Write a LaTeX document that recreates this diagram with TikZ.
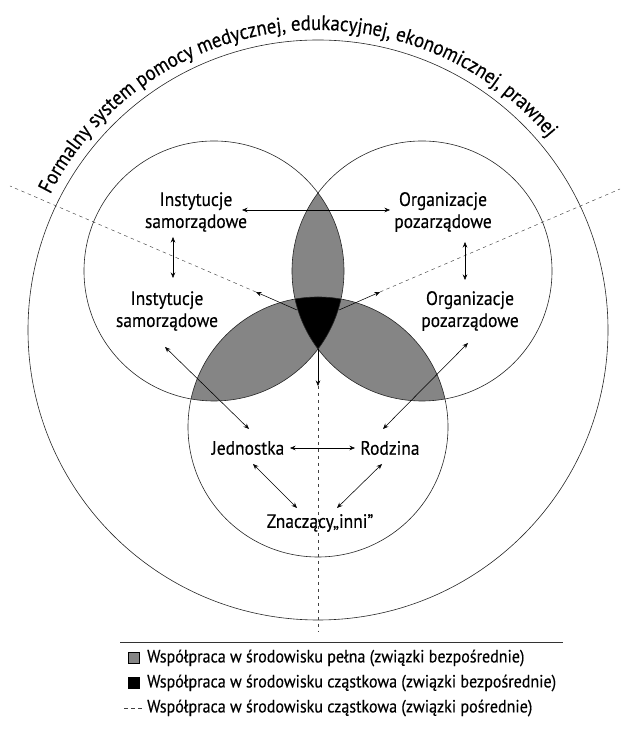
\documentclass[tikz,border=0pt]{standalone}
\usepackage{fontspec}
\setmainfont{PT Sans}[FakeStretch=0.9,FakeBold=0.3]
\usetikzlibrary{arrows.meta,decorations.text,calc}

\begin{document}
\begin{tikzpicture}[x=1pt,y=1pt,
  ring/.style={draw=black!85,line width=0.6pt},
  lens/.style={fill=black!48},
  core/.style={fill=black},
  lbl/.style={font=\fontsize{19.4}{22}\selectfont,align=center,inner sep=0pt},
  link/.style={line width=0.55pt,{Stealth[length=5.5pt,width=4.5pt]}-{Stealth[length=5.5pt,width=4.5pt]}},
  ray/.style={line width=0.55pt,-{Stealth[length=5.5pt,width=4.5pt]}},
  guide/.style={dash pattern=on 3.5pt off 3.5pt,line width=0.45pt,draw=black!75},
  legtext/.style={font=\fontsize{17.8}{20}\selectfont,anchor=west,inner sep=0pt}]
\useasboundingbox (0,0) rectangle (626,730);

% centres of the outer circle and the three spheres
\coordinate (O) at (318,400);
\coordinate (A) at (214,459);
\coordinate (B) at (422,459);
\coordinate (C) at (318,303);

% pairwise overlaps (grey) and the common part (black)
\begin{scope}
  \clip (A) circle[radius=130pt];
  \fill[lens] (B) circle[radius=130pt];
  \fill[lens] (C) circle[radius=130pt];
\end{scope}
\begin{scope}
  \clip (B) circle[radius=130pt];
  \fill[lens] (C) circle[radius=130pt];
\end{scope}
\begin{scope}
  \clip (A) circle[radius=130pt];
  \clip (B) circle[radius=130pt];
  \fill[core] (C) circle[radius=130pt];
\end{scope}

% circle outlines
\draw[ring] (O) circle[radius=290pt];
\draw[ring] (A) circle[radius=130pt];
\draw[ring] (B) circle[radius=130pt];
\draw[ring] (C) circle[radius=130pt];

% title along the outer circle
\path[decorate,decoration={text along path,
  text format delimiters={|}{|},
  text={|\fontsize{20.9}{24}\selectfont|Formalny system pomocy medycznej, edukacyjnej, ekonomicznej, prawnej},
  text align=center}]
  (O) ++(170:300pt) arc[start angle=170,end angle=23,radius=300pt];

% rays leaving the common part
\coordinate (corel) at (297,420);
\coordinate (corer) at (339,420);
\coordinate (coreb) at (318,381);
\coordinate (tipl) at (256,438);
\coordinate (tipr) at (380,438);
\coordinate (tipb) at (318,344);
\coordinate (endl) at (10,544);
\coordinate (endr) at (620,541);
\coordinate (endb) at (318,98);
\draw[guide] (tipl) -- (endl);
\draw[guide] (tipr) -- (endr);
\draw[guide] (tipb) -- (endb);
\draw[ray] (corel) -- (tipl);
\draw[ray] (corer) -- (tipr);
\draw[ray] (coreb) -- (tipb);

% labels
\node[lbl] (inst1) at (196,518) {Instytucje\\samorządowe};
\node[lbl] (org1)  at (443,518) {Organizacje\\pozarządowe};
\node[lbl] (inst2) at (167,419) {Instytucje\\samorządowe};
\node[lbl] (org2)  at (470,419) {Organizacje\\pozarządowe};
\node[lbl] (jed)   at (248,282) {Jednostka};
\node[lbl] (rod)   at (390,282) {Rodzina};
\node[lbl] (zn)    at (320,207) {Znaczący„inni”};

% relations
\draw[link] ([shift={(46,2)}]inst1.center) -- ([shift={(-53,2)}]org1.center);
\draw[link] ([shift={(-23,-25)}]inst1.center) -- ([shift={(6,33)}]inst2.center);
\draw[link] ([shift={(22,-30)}]org1.center) -- ([shift={(-5,31)}]org2.center);
\draw[link] ([shift={(-2,-36)}]inst2.center) -- ([shift={(1,19)}]jed.center);
\draw[link] ([shift={(-2,-32)}]org2.center) -- ([shift={(-7,19)}]rod.center);
\draw[link] ([shift={(42,0)}]jed.center) -- ([shift={(-35,0)}]rod.center);
\draw[link] ([shift={(5,-16)}]jed.center) -- ([shift={(-23,15)}]zn.center);
\draw[link] ([shift={(-8,-16)}]rod.center) -- ([shift={(17,15)}]zn.center);

% legend
\coordinate (rulel) at (120,88);
\coordinate (ruler) at (563,88);
\draw[line width=0.6pt,draw=black!80] (rulel) -- (ruler);
\node[draw,lens,minimum size=11pt,inner sep=0pt,line width=0.5pt] (k1) at (134,72) {};
\node[draw,core,minimum size=11pt,inner sep=0pt] (k2) at (134,47) {};
\coordinate (k3a) at (124,22);
\coordinate (k3b) at (142,22);
\draw[guide] (k3a) -- (k3b);
\node[legtext] (t1) at (147,72) {Współpraca w środowisku pełna (związki bezpośrednie)};
\node[legtext] (t2) at (147,47) {Współpraca w środowisku cząstkowa (związki bezpośrednie)};
\node[legtext] (t3) at (147,22) {Współpraca w środowisku cząstkowa (związki pośrednie)};
\end{tikzpicture}
\end{document}
